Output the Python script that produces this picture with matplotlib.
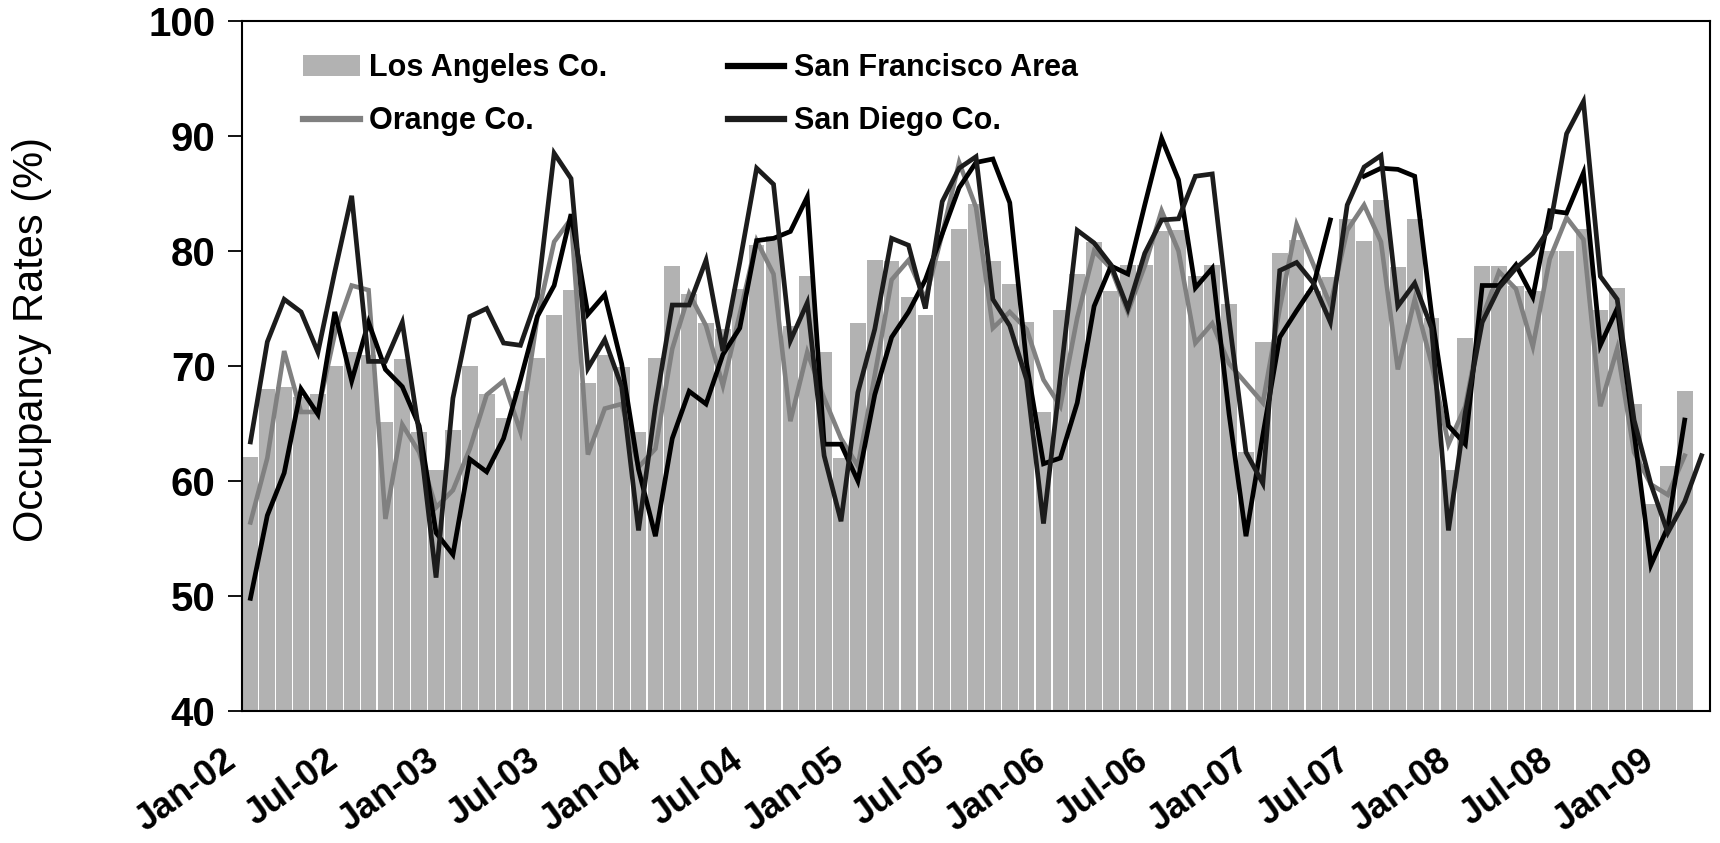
import numpy as np
import matplotlib
matplotlib.use("Agg")
import matplotlib.pyplot as plt
import matplotlib.transforms as mtransforms
from matplotlib.patches import Patch
from matplotlib.lines import Line2D

plt.rcParams['font.family'] = ['Liberation Sans', 'DejaVu Sans']

# ---- data (monthly, Jan-02 .. Mar-09) ----
tick_labels = ["Jan-02", "Jul-02", "Jan-03", "Jul-03", "Jan-04", "Jul-04", "Jan-05",
               "Jul-05", "Jan-06", "Jul-06", "Jan-07", "Jul-07", "Jan-08", "Jul-08", "Jan-09"]

los_angeles = [62.1, 68.0, 68.2, 67.3, 67.6, 70.0, 71.2, 71.0, 65.1, 70.6, 64.3, 61.0,
               64.4, 70.0, 67.6, 65.5, 67.8, 70.7, 74.4, 76.6, 68.5, 71.0, 69.9, 64.3,
               70.7, 78.7, 76.3, 73.7, 73.2, 76.7, 80.5, 81.3, 73.5, 77.8, 71.2, 62.0,
               73.7, 79.2, 79.1, 76.0, 74.4, 79.1, 81.9, 84.1, 79.1, 77.1, 73.8, 66.0,
               74.9, 78.0, 80.8, 76.5, 78.8, 78.8, 81.7, 81.8, 77.8, 78.8, 75.4, 62.5,
               72.1, 79.8, 81.0, 76.5, 77.7, 82.8, 80.9, 84.4, 78.6, 82.8, 74.2, 61.0,
               72.4, 78.7, 78.7, 77.0, 76.5, 80.0, 80.0, 81.9, 74.9, 76.8, 66.7, 58.0,
               61.3, 67.8]

orange = [56.4, 62.0, 71.3, 66.0, 66.0, 72.8, 77.0, 76.6, 56.7, 64.9, 62.5, 57.7,
          59.2, 62.8, 67.5, 68.7, 64.3, 74.2, 80.8, 82.8, 62.3, 66.3, 66.7, 61.2,
          62.8, 71.5, 76.3, 73.5, 68.3, 74.5, 80.9, 78.0, 65.2, 71.2, 67.2, 63.7,
          61.3, 69.2, 77.5, 79.2, 75.8, 81.5, 87.7, 83.8, 73.3, 74.7, 73.2, 68.8,
          66.5, 74.2, 80.0, 78.5, 74.7, 78.7, 83.5, 80.0, 72.0, 73.7, 70.2, 68.5,
          66.8, 75.0, 82.3, 78.8, 75.3, 81.8, 84.0, 80.8, 69.7, 75.8, 70.2, 63.2,
          66.5, 74.2, 78.2, 76.7, 71.7, 79.3, 82.9, 81.0, 66.5, 71.5, 62.5, 59.7,
          58.8, 62.2]

san_francisco = [49.8, 57.0, 60.7, 68.0, 65.8, 74.7, 68.7, 73.8, 69.7, 68.2, 64.8, 55.5,
                 53.6, 61.9, 60.8, 63.7, 68.8, 74.3, 77.0, 83.2, 74.5, 76.2, 70.2, 61.0,
                 55.2, 63.7, 67.8, 66.7, 71.0, 73.3, 80.9, 81.1, 81.7, 84.7, 63.2, 63.2,
                 60.0, 67.5, 72.5, 74.7, 77.5, 81.5, 85.5, 87.7, 88.0, 84.2, 70.2, 61.5,
                 62.0, 66.8, 75.2, 78.7, 78.0, 84.0, 89.8, 86.2, 76.8, 78.5, 65.8, 55.2,
                 64.0, 72.5, 74.8, 77.0, 82.7, np.nan, 86.5, 87.2, 87.1, 86.5, 74.5, 64.8,
                 63.2, 77.0, 77.0, 78.8, 76.0, 83.5, 83.3, 86.8, 71.8, 75.0, 64.2, 52.7,
                 56.0, 65.3]

san_diego = [63.4, 72.1, 75.8, 74.7, 71.2, 78.2, 84.8, 70.4, 70.4, 73.8, 64.2, 51.6,
             67.2, 74.3, 75.0, 72.0, 71.8, 76.0, 88.5, 86.3, 69.8, 72.3, 68.2, 55.7,
             66.5, 75.3, 75.3, 79.2, 71.3, 79.0, 87.2, 85.8, 72.2, 75.5, 62.2, 56.5,
             67.7, 73.2, 81.1, 80.5, 75.0, 84.3, 87.2, 88.2, 75.8, 73.5, 68.8, 56.3,
             69.0, 81.8, 80.7, 78.8, 75.0, 79.8, 82.7, 82.8, 86.5, 86.7, 74.0, 62.5,
             59.8, 78.3, 79.0, 77.2, 73.8, 84.0, 87.3, 88.3, 75.2, 77.2, 73.3, 55.7,
             66.0, 73.8, 76.8, 78.5, 79.8, 82.0, 90.2, 93.0, 77.8, 75.8, 65.3, 59.7,
             55.5, 58.2, 62.2]

n_months = len(san_diego)
x_all = np.arange(n_months)

fig = plt.figure(figsize=(17.2, 8.43), dpi=100)
ax = fig.add_axes([242 / 1720, 1 - 711 / 843, (1710 - 242) / 1720, (711 - 21) / 843])

ax.bar(np.arange(len(los_angeles)), los_angeles, width=0.93, color="#b2b2b2",
       edgecolor="none", zorder=1)
ax.plot(np.arange(len(orange)), orange, color="#808080", lw=3.3, zorder=2,
        solid_joinstyle="miter")
ax.plot(np.arange(len(san_francisco)), san_francisco, color="#000000", lw=3.4, zorder=3,
        solid_joinstyle="miter")
ax.plot(x_all, san_diego, color="#1c1c1c", lw=3.4, zorder=3, solid_joinstyle="miter")

ax.set_xlim(-0.5, n_months - 0.5)
ax.set_ylim(40, 100)
ax.set_yticks(np.arange(40, 101, 10))
ax.tick_params(axis="y", direction="out", length=10, width=1.3, pad=9)
for lbl in ax.get_yticklabels():
    lbl.set_fontsize(29)
    lbl.set_fontweight("bold")

ax.set_xticks(np.arange(0, n_months, 6))
ax.set_xticklabels(tick_labels, fontsize=26, fontweight="bold", rotation=36,
                   ha="right", va="top", rotation_mode="anchor")
ax.tick_params(axis="x", length=0, pad=23)
offset = mtransforms.ScaledTranslation(-28 / 100, 0, fig.dpi_scale_trans)
for lbl in ax.get_xticklabels():
    lbl.set_transform(lbl.get_transform() + offset)

for sp in ax.spines.values():
    sp.set_linewidth(1.5)
    sp.set_color("black")

fig.text(32 / 1720, 1 - 340 / 843, "Occupancy Rates (%)", rotation=90,
         fontsize=30, ha="center", va="center")

handles = [Patch(facecolor="#b2b2b2", edgecolor="none", label="Los Angeles Co."),
           Line2D([], [], color="#808080", lw=4.5, label="Orange Co."),
           Line2D([], [], color="#000000", lw=4.5, label="San Francisco Area"),
           Line2D([], [], color="#1c1c1c", lw=4.5, label="San Diego Co.")]
leg = ax.legend(handles=handles, ncol=2, loc="upper left",
                bbox_to_anchor=(0.023, 0.993), frameon=False,
                prop={"weight": "bold", "size": 22}, handlelength=1.85,
                handletextpad=0.3, columnspacing=3.95, labelspacing=0.75)

fig.savefig("out.png", dpi=100)
